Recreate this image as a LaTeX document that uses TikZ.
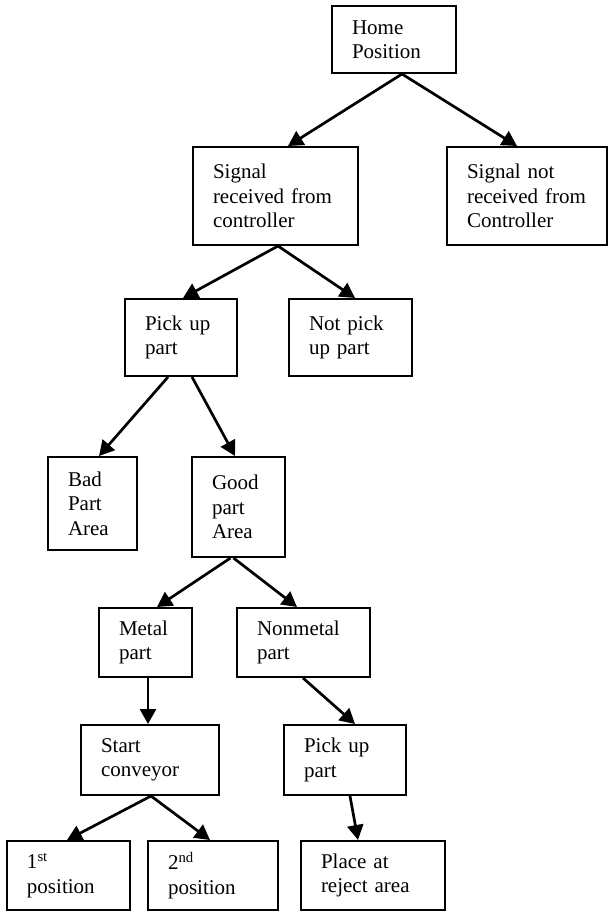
\documentclass[tikz,border=0pt]{standalone}
\usepackage{fontspec}
\setmainfont{Liberation Serif}
\usetikzlibrary{arrows.meta}
\begin{document}
\begin{tikzpicture}[x=1pt,y=-1pt,
  box/.style={draw=black, line width=2pt, rectangle, inner xsep=20pt, inner ysep=2pt,
    align=left, font=\fontsize{21}{24.5}\selectfont},
  conn/.style={line width=2.7pt, -{Triangle[length=15pt,width=16pt]}}]
\useasboundingbox (0,0) rectangle (613,920);
\fill[white] (0,0) rectangle (613,920);
% boxes: center x, center y, width W, height H ; text width W-40
\node[box, minimum width=124pt, minimum height=67pt, text width=84pt] (home) at (394,39.5) {Home\\Position};
\node[box, minimum width=165pt, minimum height=98pt, text width=125pt] (sigrec) at (275.5,196) {Signal\\received from\\controller};
\node[box, minimum width=160pt, minimum height=98pt, text width=120pt] (signot) at (527,196) {Signal not\\received from\\Controller};
\node[box, minimum width=112pt, minimum height=77pt, text width=72pt] (pick) at (181,337.5) {Pick up\\part};
\node[box, minimum width=123pt, minimum height=77pt, text width=83pt] (notpick) at (350.5,337.5) {Not pick\\up part};
\node[box, minimum width=89pt, minimum height=93pt, text width=49pt] (bad) at (92.5,503.5) {Bad\\Part\\Area};
\node[box, minimum width=93pt, minimum height=100pt, text width=53pt] (good) at (238.5,507) {Good\\part\\Area};
\node[box, minimum width=93pt, minimum height=69pt, text width=53pt] (metal) at (145.5,642.5) {Metal\\part};
\node[box, minimum width=133pt, minimum height=69pt, text width=93pt] (nonmetal) at (303.5,642.5) {Nonmetal\\part};
\node[box, minimum width=138pt, minimum height=70pt, text width=98pt] (start) at (150,760) {Start\\conveyor};
\node[box, minimum width=122pt, minimum height=70pt, text width=82pt] (pick2) at (345,760) {Pick up\\part};
\node[box, minimum width=123pt, minimum height=69pt, text width=83pt] (first) at (68.5,875.5) {1\textsuperscript{st}\\position};
\node[box, minimum width=130pt, minimum height=69pt, text width=90pt] (second) at (213,875.5) {2\textsuperscript{nd}\\position};
\node[box, minimum width=144pt, minimum height=69pt, text width=104pt] (place) at (373,875.5) {Place at\\reject area};
% connectors
\draw[conn] ([xshift=8pt]home.south) -- ([xshift=12.5pt]sigrec.north);
\draw[conn] ([xshift=8pt]home.south) -- ([xshift=-10pt]signot.north);
\draw[conn] ([xshift=2.5pt]sigrec.south) -- ([xshift=2pt]pick.north);
\draw[conn] ([xshift=2.5pt]sigrec.south) -- ([xshift=4.5pt]notpick.north);
\draw[conn] ([xshift=-13pt]pick.south) -- ([xshift=6.5pt]bad.north);
\draw[conn] ([xshift=11pt]pick.south) -- ([xshift=-3.5pt]good.north);
\draw[conn] ([xshift=-8pt]good.south) -- ([xshift=11.5pt]metal.north);
\draw[conn] ([xshift=-5pt]good.south) -- ([xshift=-6.5pt]nonmetal.north);
\draw[conn] ([xshift=2.5pt]metal.south) -- ([xshift=-2pt]start.north);
\draw[conn] ([xshift=-0.5pt]nonmetal.south) -- ([xshift=10pt]pick2.north);
\draw[conn] ([xshift=1pt]start.south) -- ([xshift=-1.5pt]first.north);
\draw[conn] ([xshift=1pt]start.south) -- ([xshift=-3pt]second.north);
\draw[conn] ([xshift=5pt]pick2.south) -- ([xshift=-15pt]place.north);
\end{tikzpicture}
\end{document}
